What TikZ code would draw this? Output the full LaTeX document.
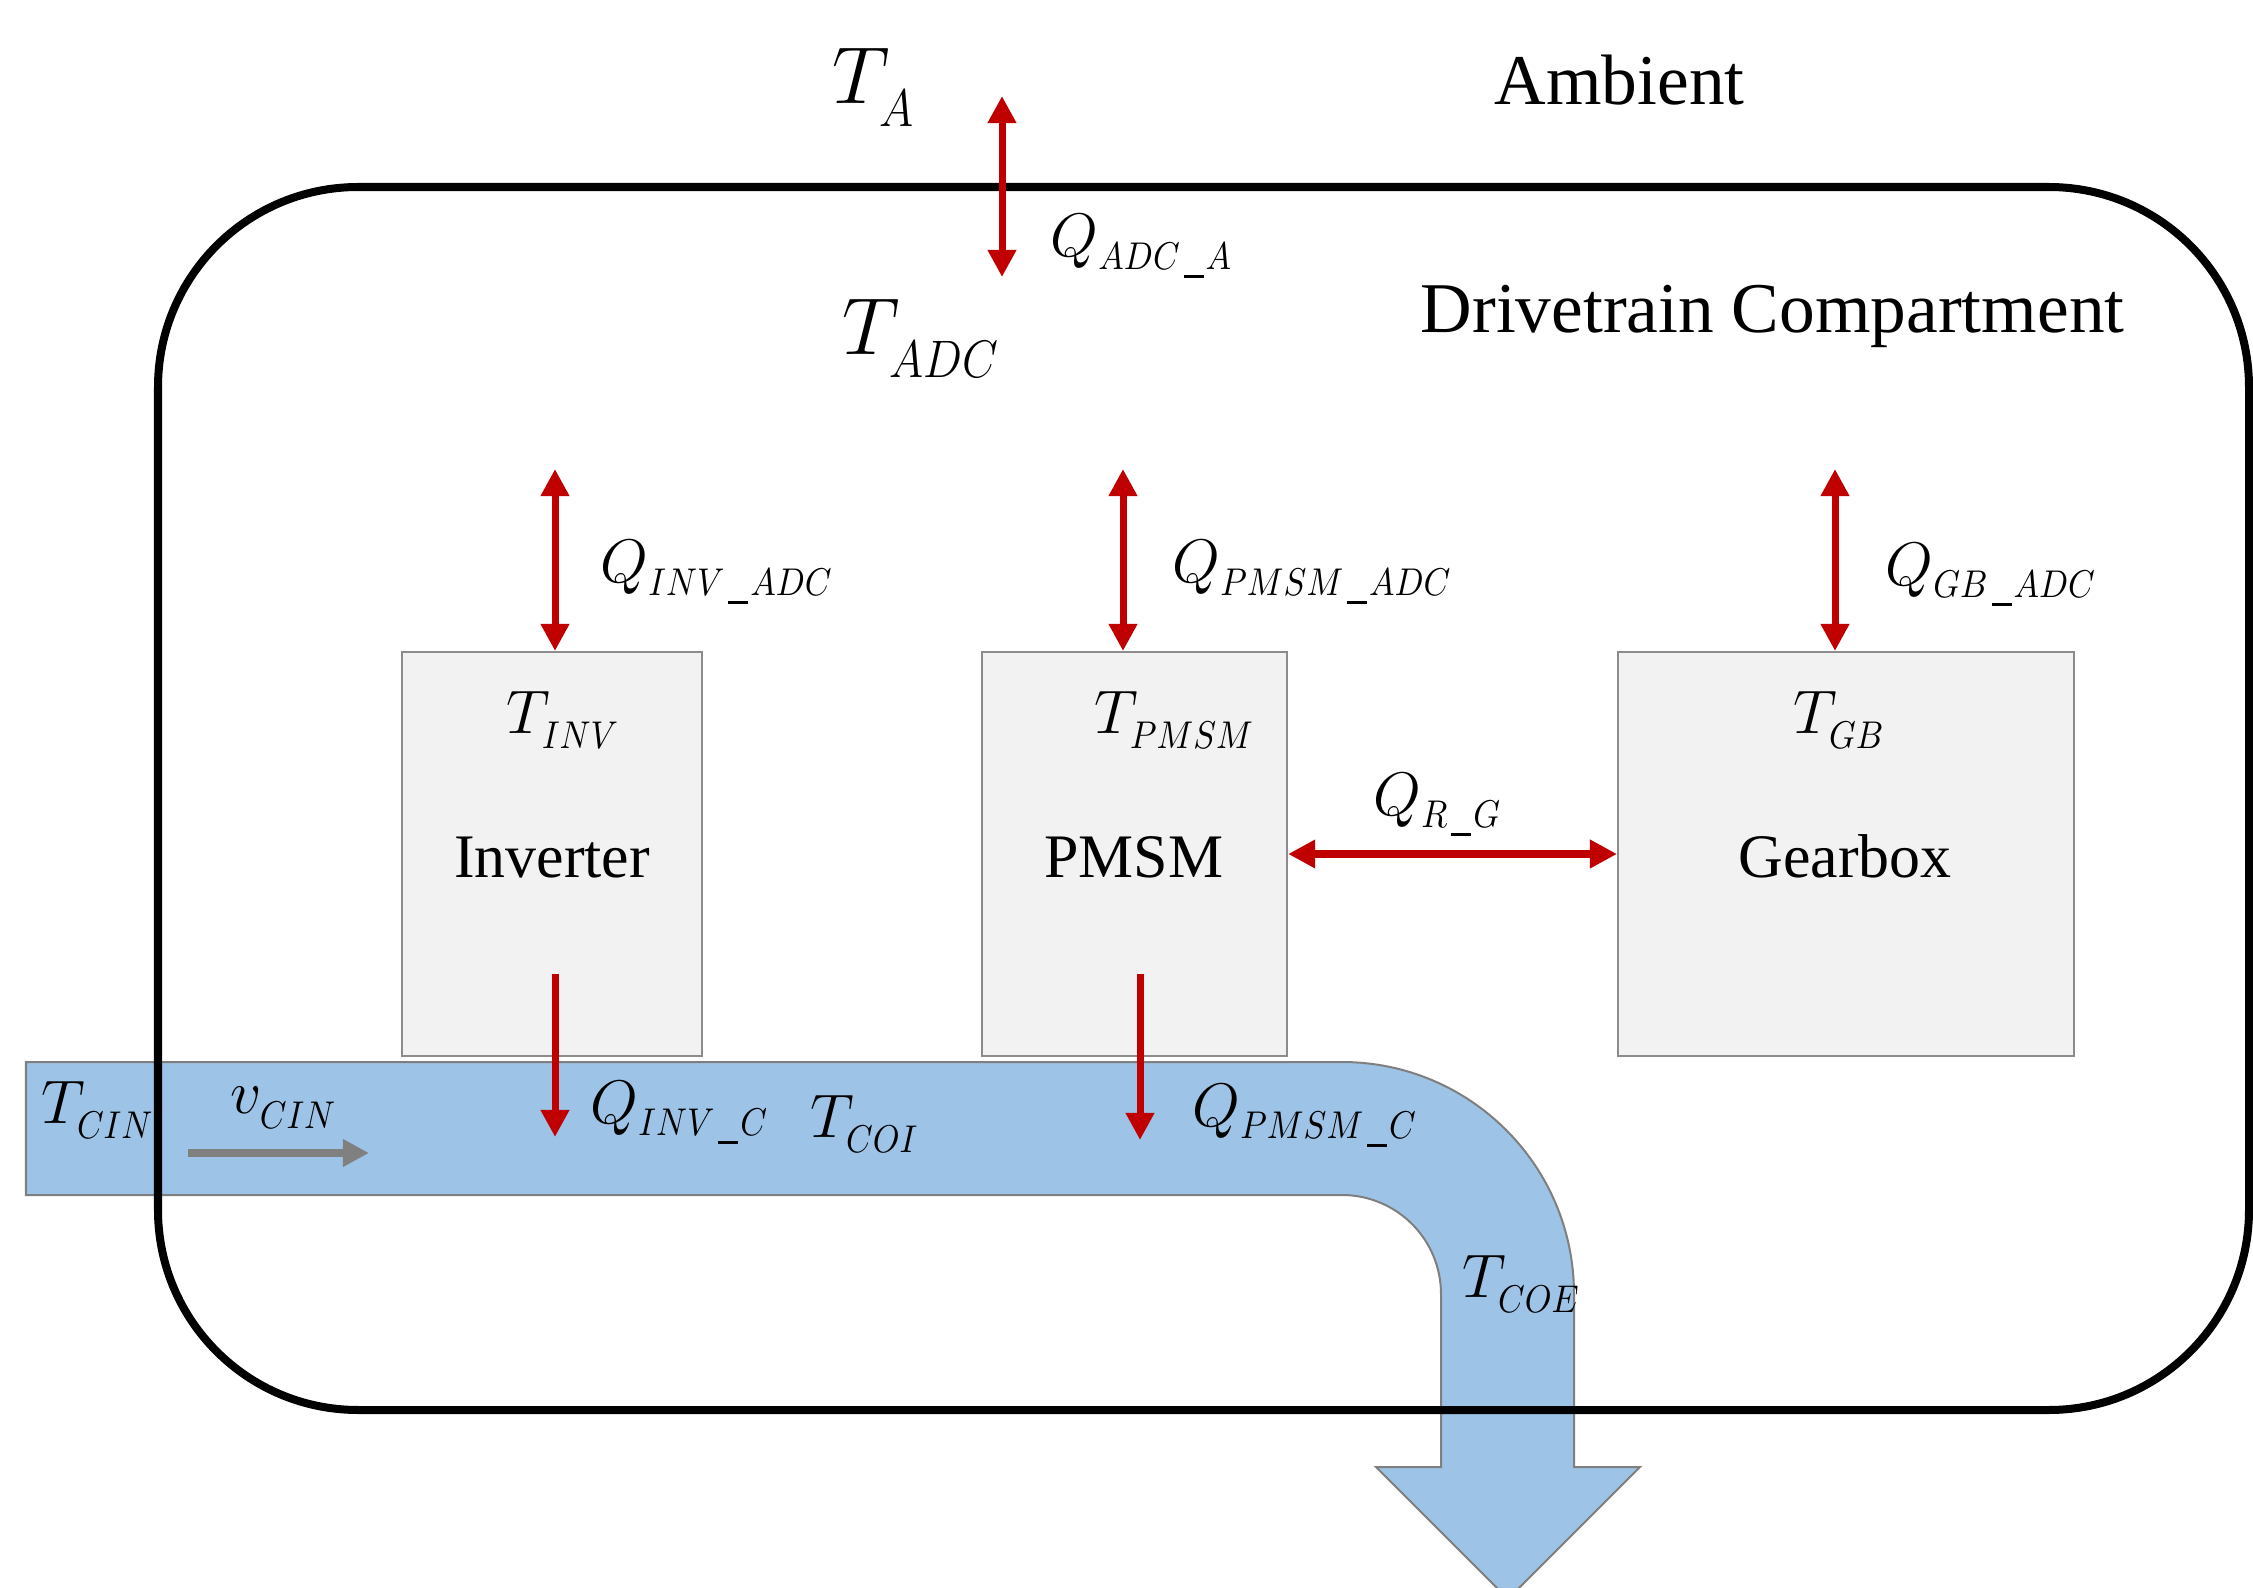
\RequirePackage{fix-cm}
\documentclass[tikz,border=0pt]{standalone}
\usepackage{graphicx}
\usepackage{fontspec}
\setmainfont{Liberation Serif}
\usetikzlibrary{arrows.meta}
\DeclareMathSizes{17.5}{17.5}{11}{8}
\DeclareMathSizes{23}{23}{15}{11}
\definecolor{hotred}{HTML}{C00000}
\definecolor{pipeblue}{HTML}{9DC3E6}
\definecolor{pipeedge}{HTML}{7F7F7F}
\definecolor{boxfill}{HTML}{F2F2F2}
\definecolor{boxedge}{HTML}{8C8C8C}
\definecolor{flowgray}{HTML}{808080}
% label: #1 subscript drop, #2 main symbol, #3 subscript
\newcommand\lab[3]{$\fontdimen16\textfont2=#1 #2_{\scalebox{0.88}[1]{$\scriptstyle #3$}}$}
\newcommand\us{\mkern2mu\rule[-2.6pt]{6.5pt}{0.9pt}\mkern1mu}
\begin{document}
\begin{tikzpicture}[x=0.01cm,y=-0.01cm,
  >={Triangle[width=0.27cm,length=0.27cm]},
  boxn/.style={draw=boxedge, fill=boxfill, line width=0.02cm, inner sep=0pt, anchor=north west},
  heat/.style={draw=hotred, line width=0.07cm, <->},
  heatdown/.style={draw=hotred, line width=0.07cm, ->},
  lbl/.style={inner sep=0pt, anchor=base west, font=\fontsize{17.5}{20}\selectfont},
  biglbl/.style={inner sep=0pt, anchor=base west, font=\fontsize{23}{27}\selectfont},
  txt/.style={inner sep=0pt, anchor=base west, font=\fontsize{20.3}{24}\selectfont},
  boxtxt/.style={inner sep=0pt, anchor=base, font=\fontsize{17.6}{21}\selectfont},
]
\useasboundingbox (0,0) rectangle (2253,1588);

% coolant pipe
\draw[fill=pipeblue, draw=pipeedge, line width=0.02cm]
  (26,1062) -- (1342,1062) arc[start angle=-90, end angle=0, radius=232]
  -- (1574,1467) -- (1640,1467) -- (1508,1599) -- (1376,1467) -- (1441,1467)
  -- (1441,1294) arc[start angle=0, end angle=-90, radius=99]
  -- (26,1195) -- cycle;

% compartment
\draw[line width=0.08cm, rounded corners=2cm] (158,187) rectangle (2249,1410);

% component boxes
\node[boxn, minimum width=3cm, minimum height=4.04cm] (inv) at (401,651) {};
\node[boxn, minimum width=3.05cm, minimum height=4.04cm] (pmsm) at (981,651) {};
\node[boxn, minimum width=4.56cm, minimum height=4.04cm] (gb) at (1617,651) {};

% labels
\node[biglbl] (TA) at (832,104) {\lab{6.5pt}{T}{A}};
\node[biglbl] (TADC) at (842,355) {\lab{6.5pt}{T}{ADC}};
\node[lbl] (QADCA) at (1050,257) {\lab{3.5pt}{Q}{ADC\us A}};
\node[txt] (amb) at (1494,105) {Ambient};
\node[txt] (dc) at (1420,333) {Drivetrain Compartment};
\node[lbl] (QINVADC) at (600,583) {\lab{3.5pt}{Q}{INV\us ADC}};
\node[lbl] (QPMSMADC) at (1172,583) {\lab{3.5pt}{Q}{PMSM\us ADC}};
\node[lbl] (QGBADC) at (1885,585) {\lab{3.5pt}{Q}{GB\us ADC}};
\node[lbl] (TINV) at (506,733) {\lab{4.5pt}{T}{INV}};
\node[lbl] (TPMSM) at (1094,733) {\lab{4.5pt}{T}{PMSM}};
\node[lbl] (TGB) at (1793,733) {\lab{4.5pt}{T}{GB}};
\node[boxtxt] (invtxt) at (552,877) {Inverter};
\node[boxtxt] (pmsmtxt) at (1134,877) {PMSM};
\node[boxtxt] (gbtxt) at (1845,877) {Gearbox};
\node[lbl] (QRG) at (1373,815) {\lab{3.5pt}{Q}{R\us G}};
\node[lbl] (TCIN) at (41,1123) {\lab{4.5pt}{T}{CIN}};
\node[lbl] (vCIN) at (230,1113) {\lab{4.5pt}{v}{CIN}};
\node[lbl] (QINVC) at (590,1123) {\lab{3.5pt}{Q}{INV\us C}};
\node[lbl] (TCOI) at (810,1137) {\lab{4.5pt}{T}{COI}};
\node[lbl] (QPMSMC) at (1192,1126) {\lab{3.5pt}{Q}{PMSM\us C}};
\node[lbl] (TCOE) at (1462,1297) {\lab{4.5pt}{T}{COE}};

% heat flow arrows
\coordinate (ambtop) at (1002,96);
\coordinate (ambbot) at (1002,277);
\draw[heat] (ambtop) -- (ambbot);
\coordinate (invq) at (555,469);
\draw[heat] (invq) -- (invq |- inv.north);
\coordinate (pmsmq) at (1123,469);
\draw[heat] (pmsmq) -- (pmsmq |- pmsm.north);
\coordinate (gbq) at (1835,469);
\draw[heat] (gbq) -- (gbq |- gb.north);
\coordinate (rg) at (1450,854);
\draw[heat] (pmsm.east |- rg) -- (gb.west |- rg);
\coordinate (invcs) at (555,974);
\coordinate (invce) at (555,1137);
\draw[heatdown] (invcs) -- (invce);
\coordinate (pmsmcs) at (1140,974);
\coordinate (pmsmce) at (1140,1140);
\draw[heatdown] (pmsmcs) -- (pmsmce);

% coolant velocity arrow
\coordinate (vs) at (188,1153);
\coordinate (ve) at (369,1153);
\draw[flowgray, line width=0.08cm, -{Triangle[width=0.26cm,length=0.26cm]}] (vs) -- (ve);
\end{tikzpicture}
\end{document}
